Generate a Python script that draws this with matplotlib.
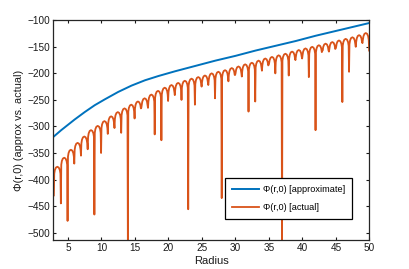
import numpy as np
import matplotlib
matplotlib.use("Agg")
import matplotlib.pyplot as plt

plt.rcParams['font.family'] = ['Liberation Sans', 'DejaVu Sans']

# ---- data ----
approx_r = [2.8, 4, 5, 6, 7.5, 9, 10.5, 12.5, 14.5, 16.5, 18.5, 21, 24, 27, 30,
            33, 36, 39, 42, 45, 48, 50]
approx_v = [-320, -307, -297, -287, -273, -260, -249, -235, -223, -213, -205,
            -196, -186, -176, -167, -157, -148, -139, -129, -120, -111, -105]

# radii of the sharp minima of the actual curve and their values
dip_r = [2.9] + [k - 0.05 for k in range(4, 51)]
dip_v = [-430,
         -445, -478, -370, -355, -343, -466, -350, -314, -303, -312,
         -535, -285, -265, -265, -315, -326, -252, -241, -250, -456,
         -259, -225, -222, -247, -435, -215, -203, -206, -272, -253,
         -195, -184, -200, -535, -204, -175, -172, -207, -307, -156,
         -159, -153, -254, -197, -150, -143, -157]
# top of each arch between successive minima
arch_top = [-376, -359, -344, -331, -319, -307, -299, -290, -281, -273,
            -266, -259, -253, -247, -240, -233, -227, -222, -218, -214,
            -210, -207, -204, -200, -197, -194, -190, -187, -183, -180,
            -176, -172, -169, -166, -163, -159, -156, -153, -150, -147,
            -144, -141, -138, -135, -132, -128, -124]

x_ticks = [5, 10, 15, 20, 25, 30, 35, 40, 45, 50]
y_ticks = [-500, -450, -400, -350, -300, -250, -200, -150, -100]
labels = ['\u03a6(r,0) [approximate]', '\u03a6(r,0) [actual]']

# arch drawing template (shape only)
arch_frac = [0.06, 0.15, 0.3, 0.5, 0.7, 0.85, 0.94]
arch_drop = [13, 6, 1.5, 0, 1.5, 6, 13]

act_r, act_v = [], []
for i in range(len(dip_r)):
    act_r.append(dip_r[i]); act_v.append(dip_v[i])
    if i < len(arch_top):
        a, b = dip_r[i], dip_r[i + 1]
        for f, d in zip(arch_frac, arch_drop):
            act_r.append(a + f * (b - a)); act_v.append(arch_top[i] - d)

blue = '#0072BD'
orange = '#D95319'
axc = '#262626'

fig = plt.figure(figsize=(4.09, 2.69), dpi=100)
ax = fig.add_axes([0.1308, 0.1078, 0.7726, 0.8167])
ax.plot(approx_r, approx_v, color=blue, lw=1.4, label=labels[0])
ax.plot(act_r, act_v, color=orange, lw=1.3, label=labels[1])

ax.set_xlim(2.85, 50)
ax.set_ylim(-514, -100)
ax.set_xticks(x_ticks)
ax.set_yticks(y_ticks)
ax.tick_params(direction='in', length=2.5, width=0.8, top=True, right=True,
               labelsize=7.2, colors='#1a1a1a', pad=2.5)
for s in ax.spines.values():
    s.set_color(axc); s.set_linewidth(0.9)
ax.set_xlabel('Radius', fontsize=8, color='#1a1a1a', labelpad=2)
ax.set_ylabel('\u03a6(r,0) (approx vs. actual)', fontsize=7.8, color='#1a1a1a', labelpad=2)

leg = ax.legend(loc='lower right', bbox_to_anchor=(0.9446, 0.0956),
                borderaxespad=0, fontsize=6.6, fancybox=False, framealpha=1,
                edgecolor='black', handlelength=3.0, labelspacing=1.0,
                borderpad=0.75, handletextpad=0.4)
leg.get_frame().set_linewidth(0.9)

fig.savefig('out.png', dpi=100)
